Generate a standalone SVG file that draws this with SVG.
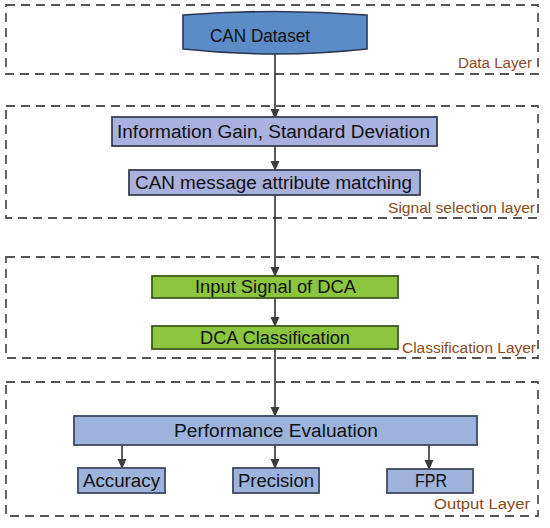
<svg xmlns="http://www.w3.org/2000/svg" width="550" height="528" viewBox="0 0 550 528">
<defs>
<marker id="ah" markerWidth="10" markerHeight="11" refX="9" refY="5" orient="auto" markerUnits="userSpaceOnUse">
<path d="M0,0.5 L10,5 L0,9.5 Z" fill="#3c3c3c"/>
</marker>
<style>
.layer{fill:none;stroke:#555;stroke-width:1.8;stroke-dasharray:9,6}
.lbl{font-family:"Liberation Sans",Arial,sans-serif;font-size:14px;fill:#8a4a1c;text-anchor:start}
.t{font-family:"Liberation Sans",Arial,sans-serif;font-size:18px;fill:#111;text-anchor:start;dominant-baseline:central}
.blue{fill:#a9b2df;stroke:#3a3f55;stroke-width:1.8}
.pblue{fill:#9db3dc;stroke:#3c4a60;stroke-width:1.8}
.green{fill:#8bc63e;stroke:#3d5a1c;stroke-width:1.8}
.conn{stroke:#333;stroke-width:1.6;fill:none}
</style>
</defs>
<rect width="550" height="528" fill="#fff"/>
<g id="layers">
<rect class="layer" x="6" y="5" width="532" height="69"/>
<text class="lbl" x="458" y="68" textLength="74" lengthAdjust="spacingAndGlyphs">Data Layer</text>
<rect class="layer" x="6" y="106" width="532" height="112"/>
<text class="lbl" x="388" y="213" textLength="147" lengthAdjust="spacingAndGlyphs">Signal selection layer</text>
<rect class="layer" x="6" y="257" width="532" height="101"/>
<text class="lbl" x="402" y="353" textLength="134" lengthAdjust="spacingAndGlyphs">Classification Layer</text>
<rect class="layer" x="6" y="382" width="532" height="134"/>
<text class="lbl" x="434" y="509" textLength="96" lengthAdjust="spacingAndGlyphs">Output Layer</text>
</g>
<g id="connectors">
<line class="conn" x1="275" y1="54" x2="275" y2="118" marker-end="url(#ah)"/>
<line class="conn" x1="275" y1="146" x2="275" y2="170" marker-end="url(#ah)"/>
<line class="conn" x1="275" y1="195" x2="275" y2="276" marker-end="url(#ah)"/>
<line class="conn" x1="275" y1="298" x2="275" y2="326" marker-end="url(#ah)"/>
<line class="conn" x1="275" y1="349" x2="275" y2="416" marker-end="url(#ah)"/>
<line class="conn" x1="122" y1="445" x2="122" y2="468" marker-end="url(#ah)"/>
<line class="conn" x1="275" y1="445" x2="275" y2="468" marker-end="url(#ah)"/>
<line class="conn" x1="429" y1="445" x2="429" y2="469" marker-end="url(#ah)"/>
</g>
<g id="can-dataset">
<path d="M183,15 Q275,8 367,15 L367,49 Q275,59 183,49 Z" fill="#5b8cc8" stroke="#2b3650" stroke-width="1.6"/>
<text class="t" x="210" y="36" textLength="100" lengthAdjust="spacingAndGlyphs">CAN Dataset</text>
</g>
<g id="info-gain">
<rect class="blue" x="112" y="117" width="325" height="29"/>
<text class="t" x="117" y="132" textLength="313" lengthAdjust="spacingAndGlyphs">Information Gain, Standard Deviation</text>
</g>
<g id="attr-matching">
<rect class="blue" x="129" y="170" width="291" height="25"/>
<text class="t" x="135" y="183" textLength="277" lengthAdjust="spacingAndGlyphs">CAN message attribute matching</text>
</g>
<g id="input-signal">
<rect class="green" x="152" y="276" width="246" height="22"/>
<text class="t" x="195" y="287" textLength="161" lengthAdjust="spacingAndGlyphs">Input Signal of DCA</text>
</g>
<g id="dca-classification">
<rect class="green" x="152" y="326" width="246" height="23"/>
<text class="t" x="200" y="337.5" textLength="150" lengthAdjust="spacingAndGlyphs">DCA Classification</text>
</g>
<g id="performance">
<rect class="pblue" x="74" y="416" width="403" height="29"/>
<text class="t" x="174" y="431" textLength="204" lengthAdjust="spacingAndGlyphs">Performance Evaluation</text>
</g>
<g id="accuracy">
<rect class="pblue" x="78" y="468" width="87" height="25"/>
<text class="t" x="83" y="481" textLength="77" lengthAdjust="spacingAndGlyphs">Accuracy</text>
</g>
<g id="precision">
<rect class="pblue" x="233" y="468" width="86" height="25"/>
<text class="t" x="238" y="481" textLength="76" lengthAdjust="spacingAndGlyphs">Precision</text>
</g>
<g id="fpr">
<rect class="pblue" x="387" y="469" width="86" height="24"/>
<text class="t" x="415" y="481" textLength="32" lengthAdjust="spacingAndGlyphs">FPR</text>
</g>
</svg>
